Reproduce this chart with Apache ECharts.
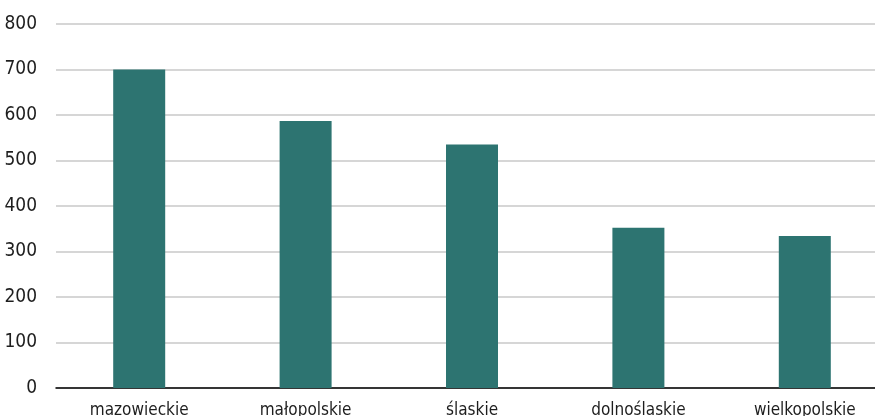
<!DOCTYPE html>
<html><head><meta charset="utf-8">
<script src="https://cdn.jsdelivr.net/npm/echarts@6/dist/echarts.min.js"></script>
<style>html,body{margin:0;padding:0;background:#fff;overflow:hidden}#c{width:888px;height:416px}</style>
</head><body><div id="c"></div>
<script>
const categories = ["mazowieckie", "małopolskie", "ślaskie", "dolnoślaskie", "wielkopolskie"];
const values = [700, 587, 535, 352, 334];
const yTicks = [0, 100, 200, 300, 400, 500, 600, 700, 800];
const FONT = '"DejaVu Sans Condensed", sans-serif';
const chart = echarts.init(document.getElementById('c'), null, {renderer: 'canvas'});
chart.setOption({
  animation: false,
  grid: {left: 56, right: 0, top: 24, bottom: 28, containLabel: false, outerBoundsMode: 'none'},
  xAxis: {
    type: 'category', data: categories,
    axisLine: {lineStyle: {color: '#000', width: 1.5}},
    axisTick: {show: false},
    axisLabel: {color: '#1e1e1e', fontFamily: FONT, fontSize: 17, margin: 14}
  },
  yAxis: {
    type: 'value', min: yTicks[0], max: yTicks[yTicks.length - 1], interval: 100,
    axisLine: {show: false}, axisTick: {show: false},
    axisLabel: {color: '#1e1e1e', fontFamily: FONT, fontSize: 19, margin: 19},
    splitLine: {lineStyle: {color: '#c8c8c8', width: 1.5}}
  },
  series: [{
    type: 'bar', data: values, barWidth: 52,
    itemStyle: {color: '#2d7471'}
  }]
});
</script></body></html>
